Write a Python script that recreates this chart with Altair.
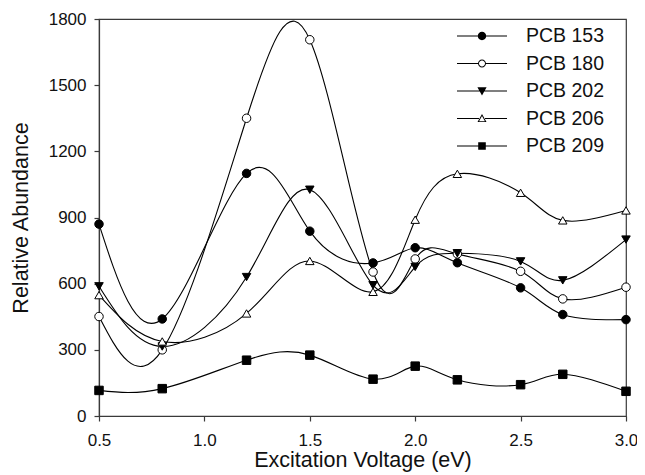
import altair as alt
import pandas as pd

voltage = [0.5, 0.8, 1.2, 1.5, 1.8, 2.0, 2.2, 2.5, 2.7, 3.0]
series_names = ["PCB 153", "PCB 180", "PCB 202", "PCB 206", "PCB 209"]
pcb153 = [870, 440, 1100, 838, 694, 763, 695, 581, 460, 437]
pcb180 = [451, 300, 1350, 1706, 653, 712, 735, 656, 531, 584]
pcb202 = [588, 315, 630, 1026, 593, 676, 738, 701, 615, 800]
pcb206 = [548, 338, 465, 703, 563, 890, 1098, 1012, 887, 932]
pcb209 = [116, 124, 253, 276, 167, 226, 164, 142, 189, 112]

marker_shapes = ["circle", "circle", "triangle-down", "triangle-up", "square"]
marker_fills = ["black", "white", "black", "white", "black"]

# legend glyphs (filled black paths; open markers are rings with holes)
LINE_L = "M-2.5,-0.055H{a}V0.055H-2.5Z"
LINE_R = "M{b},-0.055H2.5V0.055H{b}Z"
def with_line(glyph, gap):
    return LINE_L.format(a=-gap) + LINE_R.format(b=gap) + glyph

legend_paths = [
    with_line("M-0.42,0A0.42,0.42,0,1,1,0.42,0A0.42,0.42,0,1,1,-0.42,0Z", 0.3),
    with_line("M-0.40,0A0.40,0.40,0,1,1,0.40,0A0.40,0.40,0,1,1,-0.40,0Z"
              "M-0.30,0A0.30,0.30,0,1,0,0.30,0A0.30,0.30,0,1,0,-0.30,0Z", 0.36),
    with_line("M-0.46,-0.38L0.46,-0.38L0,0.44Z", 0.2),
    with_line("M-0.45,0.36L0.45,0.36L0,-0.44ZM-0.29,0.27L0,-0.25L0.29,0.27Z", 0.2),
    with_line("M-0.38,-0.38H0.38V0.38H-0.38Z", 0.2),
]

rows = []
for name, vals in zip(series_names, [pcb153, pcb180, pcb202, pcb206, pcb209]):
    for xv, yv in zip(voltage, vals):
        rows.append({"voltage": xv, "abundance": yv, "series": name})
df = pd.DataFrame(rows)

FONT = "Liberation Sans"
TXT = "#111111"

x_enc = alt.X(
    "voltage:Q",
    scale=alt.Scale(domain=[0.5, 3.0], nice=False, zero=False),
    axis=alt.Axis(title="Excitation Voltage (eV)", values=[0.5, 1.0, 1.5, 2.0, 2.5, 3.0],
                  format=".1f", grid=False, labelFlush=False),
)
y_enc = alt.Y(
    "abundance:Q",
    scale=alt.Scale(domain=[0, 1800], nice=False),
    axis=alt.Axis(title="Relative Abundance", values=[0, 300, 600, 900, 1200, 1500, 1800],
                  format="d", grid=False, labelFlush=False),
)

base = alt.Chart(df)

lines = base.mark_line(interpolate="natural", color="black", strokeWidth=1.1, clip=False).encode(
    x=x_enc, y=y_enc, detail="series:N"
)

points = base.mark_point(filled=True, stroke="black", strokeWidth=1, size=72, opacity=1).encode(
    x=x_enc,
    y=y_enc,
    shape=alt.Shape("series:N", scale=alt.Scale(domain=series_names, range=marker_shapes), legend=None),
    fill=alt.Fill("series:N", scale=alt.Scale(domain=series_names, range=marker_fills), legend=None),
)

legend_layer = base.mark_point(filled=True, color="black", opacity=0).encode(
    x=x_enc,
    y=y_enc,
    shape=alt.Shape(
        "series:N",
        scale=alt.Scale(domain=series_names, range=legend_paths),
        legend=alt.Legend(
            title=None, orient="none", legendX=373, legendY=7,
            symbolSize=400, symbolStrokeWidth=0, symbolFillColor="black",
            labelFontSize=19.5, labelFont=FONT, labelColor=TXT, labelOffset=34,
            rowPadding=7.5, padding=0, symbolOpacity=1,
        ),
    ),
)

chart = (
    alt.layer(lines, points, legend_layer)
    .resolve_scale(shape="independent", fill="independent")
    .properties(width=527, height=397, padding={"left": 91, "top": 11, "right": 11, "bottom": 60},
                autosize=alt.AutoSizeParams(type="none"))
    .configure_view(stroke="#3a3a3a", strokeWidth=1.2)
    .configure_axis(
        labelFont=FONT, titleFont=FONT, labelFontSize=17, titleFontSize=21.5,
        labelColor=TXT, titleColor=TXT, titleFontWeight="normal",
        domainColor="#3a3a3a", tickColor="#3a3a3a", tickSize=5, domainWidth=1.2, tickWidth=1.2,
        labelPadding=8,
    )
    .configure_axisY(titlePadding=16)
    .configure_axisX(titlePadding=1, labelPadding=11)
)

chart.save("out.html", embed_options={"renderer": "svg", "actions": False})
